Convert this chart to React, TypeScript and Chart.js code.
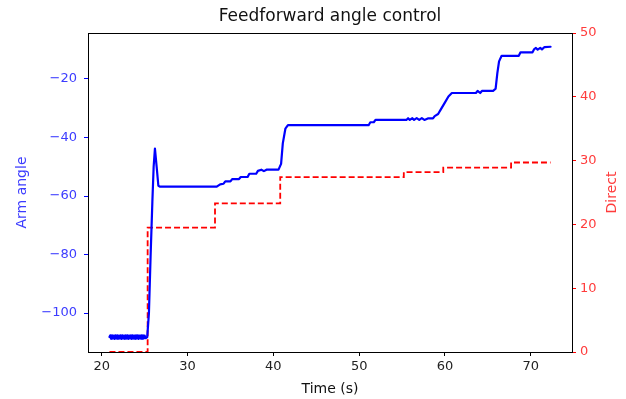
import React, { useEffect, useRef } from "react";
import { Chart, registerables } from "chart.js";

Chart.register(...registerables);

const armTime: number[] = [20.9, 21.0, 21.1, 21.2, 21.3, 21.4, 21.5, 21.6, 21.7, 21.8, 21.9, 22.0, 22.1, 22.2, 22.3, 22.4, 22.5, 22.6, 22.7, 22.8, 22.9, 23.0, 23.1, 23.2, 23.3, 23.4, 23.5, 23.6, 23.7, 23.8, 23.9, 24.0, 24.1, 24.2, 24.3, 24.4, 24.5, 24.6, 24.7, 24.8, 24.9, 25.0, 25.1, 25.3, 25.5, 25.7, 25.9, 26.05, 26.2, 26.4, 26.6, 26.8, 33.4, 33.8, 34.2, 34.4, 35, 35.2, 36, 36.2, 37, 37.2, 38, 38.2, 38.6, 38.9, 39.2, 40.6, 40.9, 41.1, 41.4, 41.7, 51.1, 51.3, 51.7, 51.9, 55.5, 55.7, 55.9, 56.2, 56.4, 56.7, 57, 57.3, 57.6, 58, 58.6, 58.8, 59.2, 59.5, 60, 60.4, 60.8, 63.6, 63.8, 64.1, 64.3, 65.6, 65.9, 66.1, 66.3, 66.6, 68.6, 68.8, 70.2, 70.4, 70.6, 70.8, 71.1, 71.3, 71.6, 72.3];
const armAngle: number[] = [-108.2, -107.6, -108.8, -107.6, -108.7, -107.7, -108.8, -107.6, -108.7, -107.6, -108.8, -107.7, -108.7, -107.6, -108.8, -107.6, -108.7, -107.7, -108.8, -107.6, -108.7, -107.6, -108.8, -107.7, -108.7, -107.6, -108.8, -107.6, -108.7, -107.7, -108.8, -107.6, -108.7, -107.6, -108.8, -107.7, -108.7, -107.6, -108.8, -107.6, -108.7, -107.7, -108.6, -108.2, -100, -80, -62, -50, -43.8, -50, -56.5, -56.8, -56.8, -56, -55.8, -55, -55, -54.2, -54.2, -53.5, -53.5, -52.4, -52.4, -51.4, -51, -51.5, -51, -51, -49, -42, -37, -35.8, -35.8, -34.8, -34.8, -34, -34, -33.4, -34, -33.4, -34, -33.4, -34, -33.4, -34, -33.5, -33.5, -32.7, -32, -30.5, -28, -26, -24.8, -24.8, -24.1, -24.8, -24.1, -24.1, -23.3, -18, -14, -12.1, -12.1, -10.9, -10.9, -9.8, -9.4, -10, -9.4, -9.9, -9.1, -9.0];

const directTime: number[] = [20.9, 25.35, 25.35, 33.2, 33.2, 40.8, 40.8, 55.2, 55.2, 59.8, 59.8, 67.7, 67.7, 72.3];
const directValue: number[] = [0, 0, 19.5, 19.5, 23.3, 23.3, 27.4, 27.4, 28.2, 28.2, 28.9, 28.9, 29.7, 29.7];

const xTicks: number[] = [20, 30, 40, 50, 60, 70];
const leftTicks: number[] = [-100, -80, -60, -40, -20];
const rightTicks: number[] = [0, 10, 20, 30, 40, 50];

const FONT = "'DejaVu Sans', sans-serif";
const BLUE_TXT = "#3c3cff";
const RED_TXT = "#ff3c3c";

const fmt = (v: number) => (v < 0 ? "\u2212" + Math.abs(v) : String(v));

export default function App() {
  const ref = useRef<HTMLCanvasElement | null>(null);
  useEffect(() => {
    document.body.style.margin = "0";
    const ctx = ref.current!;
    const decor = {
      id: "decor",
      afterDraw(chart: any) {
        const c = chart.ctx;
        const a = chart.chartArea;
        c.save();
        c.strokeStyle = "#000";
        c.lineWidth = 1;
        c.strokeRect(Math.round(a.left) + 0.5, Math.round(a.top) + 0.5, Math.round(a.right - a.left), Math.round(a.bottom - a.top));
        c.fillStyle = "#111";
        c.font = `17px ${FONT}`;
        c.textAlign = "center";
        c.textBaseline = "middle";
        c.fillText("Feedforward angle control", (a.left + a.right) / 2, 17);
        c.font = `14px ${FONT}`;
        c.fillText("Time (s)", (a.left + a.right) / 2, 389);
        c.save();
        c.translate(22, (a.top + a.bottom) / 2);
        c.rotate(-Math.PI / 2);
        c.fillStyle = BLUE_TXT;
        c.fillText("Arm angle", 0, 0);
        c.restore();
        c.save();
        c.translate(612, (a.top + a.bottom) / 2);
        c.rotate(-Math.PI / 2);
        c.fillStyle = RED_TXT;
        c.fillText("Direct", 0, 0);
        c.restore();
        c.restore();
      },
    };
    const chart = new Chart(ctx, {
      type: "line",
      data: {
        datasets: [
          {
            label: "Arm angle",
            data: armTime.map((t, i) => ({ x: t, y: armAngle[i] })),
            borderColor: "#0000ff",
            borderWidth: 2.2,
            borderJoinStyle: "round",
            borderCapStyle: "round",
            borderDash: [10000, 1],
            pointRadius: 0,
            tension: 0,
            yAxisID: "y",
          },
          {
            label: "Direct",
            data: directTime.map((t, i) => ({ x: t, y: directValue[i] })),
            borderColor: "#ff0000",
            borderWidth: 1.8,
            borderDash: [6, 3],
            pointRadius: 0,
            tension: 0,
            yAxisID: "y1",
          },
        ],
      },
      options: {
        animation: false,
        responsive: false,
        layout: { padding: { top: 33, left: 0, right: 0, bottom: 0 } },
        plugins: { legend: { display: false }, title: { display: false }, tooltip: { enabled: false } },
        scales: {
          x: {
            type: "linear",
            min: 18.4,
            max: 74.8,
            grid: { display: true, drawOnChartArea: false, drawTicks: true, tickLength: 4, tickColor: "#000" },
            border: { display: false },
            ticks: { color: "#222", font: { family: FONT, size: 13 }, padding: 3, callback: (v: any) => fmt(Number(v)) },
            afterBuildTicks: (s: any) => { s.ticks = xTicks.map((v) => ({ value: v })); },
            afterFit: (s: any) => { s.height = 47; },
          },
          y: {
            type: "linear",
            position: "left",
            min: -113.3,
            max: -4.3,
            grid: { display: true, drawOnChartArea: false, drawTicks: true, tickLength: 4, tickColor: "#0000ff" },
            border: { display: false },
            ticks: { color: BLUE_TXT, font: { family: FONT, size: 13 }, padding: 7, callback: (v: any) => fmt(Number(v)) },
            afterBuildTicks: (s: any) => { s.ticks = leftTicks.map((v) => ({ value: v })); },
            afterFit: (s: any) => { s.width = 88; },
          },
          y1: {
            type: "linear",
            position: "right",
            min: 0,
            max: 50,
            grid: { display: true, drawOnChartArea: false, drawTicks: true, tickLength: 4, tickColor: "#ff0000" },
            border: { display: false },
            ticks: { color: RED_TXT, font: { family: FONT, size: 13 }, padding: 4, callback: (v: any) => fmt(Number(v)) },
            afterBuildTicks: (s: any) => { s.ticks = rightTicks.map((v) => ({ value: v })); },
            afterFit: (s: any) => { s.width = 54; },
          },
        },
      },
      plugins: [decor],
    });
    return () => chart.destroy();
  }, []);
  return <canvas ref={ref} width={626} height={399} style={{ display: "block" }} />;
}
